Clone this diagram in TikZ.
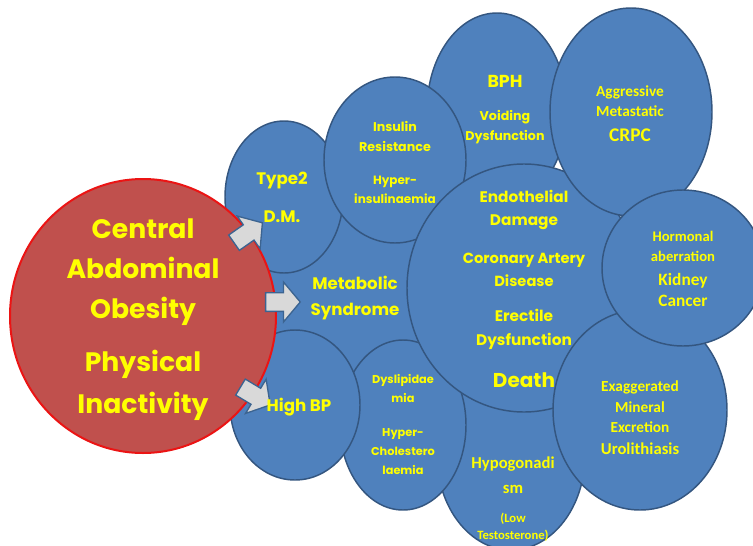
\documentclass[tikz,border=0pt]{standalone}
\usepackage{fontspec}
\usetikzlibrary{shapes.geometric,shapes.arrows}
\newfontfamily\comicfont{Poppins}
\newfontfamily\calibfont{Carlito}
\definecolor{bubblefill}{RGB}{79,129,189}
\definecolor{bubbleline}{RGB}{52,86,128}
\definecolor{obesefill}{RGB}{192,80,77}
\definecolor{obeseline}{RGB}{235,20,20}
\definecolor{labelyellow}{RGB}{255,255,0}
\definecolor{arrowfill}{RGB}{217,217,217}
\definecolor{arrowline}{RGB}{60,100,145}

\tikzset{every picture/.style={line width=0.75pt}}
\tikzset{
  bubble/.style={ellipse, draw=bubbleline, fill=bubblefill, line width=1.1pt, inner sep=0pt},
  comictext/.style={text=labelyellow, align=center, inner sep=0pt, font=\comicfont\bfseries},
  calibtext/.style={text=labelyellow, align=center, inner sep=0pt, font=\calibfont\bfseries},
  blockarrow/.style={single arrow, draw=arrowline, fill=arrowfill, line width=1pt,
    inner sep=6.5pt, minimum height=26pt, single arrow head extend=8pt, single arrow tip angle=100},
}

\begin{document}
\begin{tikzpicture}[x=0.75pt,y=0.75pt,yscale=-1,xscale=1]
\useasboundingbox (0,0) rectangle (753,546);

% Bubbles, back to front
\node [bubble, minimum width=142.5pt, minimum height=127.5pt] (metab) at (345,290) {};
\node [bubble, minimum width=111pt, minimum height=142.5pt] (hypo) at (511,455) {};
\node [bubble, minimum width=94.5pt, minimum height=127.5pt] (dyslip) at (403,425) {};
\node [bubble, minimum width=97.5pt, minimum height=112.5pt] (highbp) at (295,405) {};
\node [bubble, minimum width=88.5pt, minimum height=114pt] (type2) at (284,197) {};
\node [bubble, minimum width=105pt, minimum height=145.5pt] (bph) at (497,110) {};
\node [bubble, minimum width=106.5pt, minimum height=124.5pt] (insulin) at (395,160) {};
\node [bubble, minimum width=175.5pt, minimum height=186pt] (endo) at (524,288) {};
\node [bubble, minimum width=121.5pt, minimum height=156pt] (crpc) at (631,112) {};
\node [bubble, minimum width=130.5pt, minimum height=150pt] (exagg) at (640,410) {};
\node [bubble, minimum width=121.5pt, minimum height=117pt] (hormone) at (683,268) {};

% Obesity circle
\node [ellipse, draw=obeseline, fill=obesefill, line width=1.5pt, inner sep=0pt,
  minimum width=199.5pt, minimum height=205.5pt] (obesity) at (143,316) {};

% Block arrows
\node [blockarrow, rotate=35] (arr1) at (245,235) {};
\node [blockarrow, rotate=0] (arr2) at (279,302) {};
\node [blockarrow, rotate=-31] (arr3) at (252,394) {};

% Text Node
\node [comictext, font=\comicfont\bfseries\fontsize{20}{30}\selectfont] (txtobese) at (143,272) {Central\\Abdominal\\Obesity};
\node [comictext, font=\comicfont\bfseries\fontsize{20}{31.5}\selectfont] (txtphys) at (143,385) {Physical\\Inactivity};
% Text Node
\node [comictext, font=\comicfont\bfseries\fontsize{12.5}{28.5}\selectfont] (txttype2) at (282,197) {Type2\\D.M.};
\node [comictext, font=\comicfont\bfseries\fontsize{12.5}{19.5}\selectfont] (txtmetab) at (355,298) {Metabolic\\Syndrome};
\node [comictext, font=\comicfont\bfseries\fontsize{12.5}{15}\selectfont] (txthighbp) at (299,407) {High BP};
% Text Node
\node [comictext, font=\comicfont\bfseries\fontsize{9.5}{15}\selectfont] (txtins1) at (395,136) {Insulin\\Resistance};
\node [comictext, font=\comicfont\bfseries\fontsize{9}{14.5}\selectfont] (txtins2) at (395,190) {Hyper-\\insulinaemia};
% Text Node
\node [comictext, font=\comicfont\bfseries\fontsize{13}{15}\selectfont] (txtbph) at (505,81) {BPH};
\node [comictext, font=\comicfont\bfseries\fontsize{9.5}{15}\selectfont] (txtvoid) at (505,127) {Voiding\\Dysfunction};
% Text Node
\node [calibtext, font=\calibfont\bfseries\fontsize{11.5}{15}\selectfont] (txtaggr) at (630,101) {Aggressive\\Metastatic};
\node [calibtext, font=\calibfont\bfseries\fontsize{14.5}{15}\selectfont] (txtcrpc) at (630,135) {CRPC};
% Text Node
\node [comictext, font=\comicfont\bfseries\fontsize{11.5}{17.25}\selectfont] (txtendo) at (524,210) {Endothelial\\Damage};
\node [comictext, font=\comicfont\bfseries\fontsize{11}{17.25}\selectfont] (txtcad) at (524,270) {Coronary Artery\\Disease};
\node [comictext, font=\comicfont\bfseries\fontsize{11.5}{18}\selectfont] (txted) at (524,329) {Erectile\\Dysfunction};
\node [comictext, font=\comicfont\bfseries\fontsize{15}{15}\selectfont] (txtdeath) at (524,380) {Death};
% Text Node
\node [calibtext, font=\calibfont\bfseries\fontsize{11}{15}\selectfont] (txthorm) at (683,246) {Hormonal\\aberration};
\node [calibtext, font=\calibfont\bfseries\fontsize{13}{15.75}\selectfont] (txtkid) at (683,290) {Kidney\\Cancer};
% Text Node
\node [comictext, font=\comicfont\bfseries\fontsize{8.5}{14.25}\selectfont] (txtdys1) at (403,389) {Dyslipidae\\mia};
\node [comictext, font=\comicfont\bfseries\fontsize{8.5}{14.25}\selectfont] (txtdys2) at (403,452) {Hyper-\\Cholestero\\laemia};
% Text Node
\node [calibtext, font=\calibfont\bfseries\fontsize{11.5}{15.5}\selectfont] (txtexag) at (640,407) {Exaggerated\\Mineral\\Excretion};
\node [calibtext, font=\calibfont\bfseries\fontsize{12.5}{15}\selectfont] (txturo) at (640,449) {Urolithiasis};
% Text Node
\node [calibtext, font=\calibfont\bfseries\fontsize{12.5}{18.75}\selectfont] (txthypo) at (513,475) {Hypogonadi\\sm};
\node [calibtext, font=\calibfont\bfseries\fontsize{9.5}{12.75}\selectfont] (txtlow) at (513,527) {(Low\\Testosterone)};

\end{tikzpicture}
\end{document}
